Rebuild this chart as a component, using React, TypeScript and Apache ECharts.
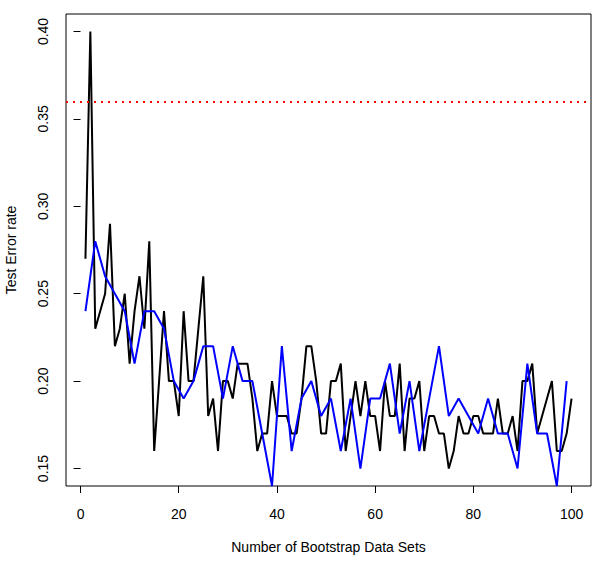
import React, { useEffect, useRef } from "react";
import * as echarts from "echarts";

// Test error for each number of bootstrap data sets (black: every B, blue: odd B)
const blackErr = [
  0.27, 0.40, 0.23, 0.24, 0.25, 0.29, 0.22, 0.23, 0.25, 0.21,
  0.24, 0.26, 0.23, 0.28, 0.16, 0.20, 0.24, 0.20, 0.20, 0.18,
  0.24, 0.20, 0.20, 0.23, 0.26, 0.18, 0.19, 0.16, 0.20, 0.20,
  0.19, 0.21, 0.21, 0.21, 0.19, 0.16, 0.17, 0.17, 0.20, 0.18,
  0.18, 0.18, 0.17, 0.17, 0.19, 0.22, 0.22, 0.20, 0.17, 0.17,
  0.20, 0.20, 0.21, 0.16, 0.18, 0.20, 0.18, 0.20, 0.18, 0.18,
  0.16, 0.20, 0.18, 0.18, 0.21, 0.16, 0.19, 0.19, 0.20, 0.16,
  0.18, 0.18, 0.17, 0.17, 0.15, 0.16, 0.18, 0.17, 0.17, 0.18,
  0.18, 0.17, 0.17, 0.17, 0.19, 0.17, 0.17, 0.18, 0.16, 0.20,
  0.20, 0.21, 0.17, 0.18, 0.19, 0.20, 0.16, 0.16, 0.17, 0.19,
];

const blueErr = [
  0.24, 0.28, 0.26, 0.25, 0.24, 0.21, 0.24, 0.24, 0.23, 0.20,
  0.19, 0.20, 0.22, 0.22, 0.19, 0.22, 0.20, 0.20, 0.17, 0.14,
  0.22, 0.16, 0.19, 0.20, 0.18, 0.19, 0.16, 0.19, 0.15, 0.19,
  0.19, 0.21, 0.17, 0.20, 0.16, 0.19, 0.22, 0.18, 0.19, 0.18,
  0.17, 0.19, 0.17, 0.17, 0.15, 0.21, 0.17, 0.17, 0.14, 0.20,
];

const threshold = 0.36;

const xTicks = [0, 20, 40, 60, 80, 100];
const yTicks = [0.15, 0.2, 0.25, 0.3, 0.35, 0.4];
const yTickLabels = ["0.15", "0.20", "0.25", "0.30", "0.35", "0.40"];

const FONT = "'Liberation Sans', Arial, sans-serif";

export default function App() {
  const ref = useRef<HTMLDivElement>(null);

  useEffect(() => {
    if (!ref.current) return;
    const chart = echarts.init(ref.current, null, { renderer: "svg" });

    const blackData = blackErr.map((v, i) => [i + 1, v]);
    const blueData = blueErr.map((v, i) => [2 * i + 1, v]);

    chart.setOption({
      animation: false,
      backgroundColor: "#ffffff",
      grid: {
        left: 66,
        top: 14,
        width: 525,
        height: 472,
        show: true,
        borderColor: "#000000",
        borderWidth: 1,
        containLabel: false,
        outerBoundsMode: "none",
      },
      xAxis: {
        type: "value",
        min: -2.96,
        max: 103.96,
        splitLine: { show: false },
        axisLine: { show: false },
        axisTick: {
          show: true,
          inside: false,
          length: 7,
          customValues: xTicks,
          lineStyle: { color: "#000000", width: 1 },
        },
        axisLabel: {
          customValues: xTicks,
          margin: 21,
          color: "#000000",
          fontSize: 14,
          fontFamily: FONT,
        },
        name: "Number of Bootstrap Data Sets",
        nameLocation: "middle",
        nameGap: 54,
        nameTextStyle: { color: "#000000", fontSize: 14, fontFamily: FONT },
      },
      yAxis: {
        type: "value",
        min: 0.14,
        max: 0.41,
        splitLine: { show: false },
        axisLine: { show: false },
        axisTick: {
          show: true,
          inside: false,
          length: 7,
          customValues: yTicks,
          lineStyle: { color: "#000000", width: 1 },
        },
        axisLabel: {
          customValues: yTicks,
          rotate: 90,
          margin: 16,
          color: "#000000",
          fontSize: 14,
          fontFamily: FONT,
          formatter: (v: number) => {
            const idx = yTicks.findIndex((t) => Math.abs(t - v) < 1e-9);
            return idx >= 0 ? yTickLabels[idx] : v.toFixed(2);
          },
        },
        name: "Test Error rate",
        nameLocation: "middle",
        nameRotate: 90,
        nameGap: 48,
        nameTextStyle: { color: "#000000", fontSize: 14, fontFamily: FONT },
      },
      series: [
        {
          type: "line",
          data: blackData,
          showSymbol: false,
          symbol: "none",
          lineStyle: { color: "#000000", width: 2 },
          itemStyle: { color: "#000000" },
          z: 2,
        },
        {
          type: "line",
          data: blueData,
          showSymbol: false,
          symbol: "none",
          lineStyle: { color: "#0000ff", width: 2 },
          itemStyle: { color: "#0000ff" },
          z: 3,
          markLine: {
            silent: true,
            symbol: "none",
            label: { show: false },
            lineStyle: { color: "#ff0000", width: 2, type: [2, 5] },
            data: [{ yAxis: threshold }],
            z: 4,
          },
        },
      ],
    });

    return () => chart.dispose();
  }, []);

  return (
    <div
      ref={ref}
      style={{ position: "fixed", left: 0, top: 0, width: 600, height: 568 }}
    />
  );
}
